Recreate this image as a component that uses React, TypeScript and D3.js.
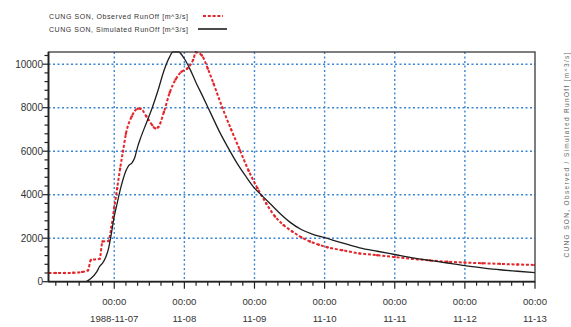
import React, {useRef, useEffect} from 'react';
import * as d3 from 'd3';

// hours relative to 1988-11-07 00:00
const obsHours = [-22.5, -20, -17, -14, -11, -9, -8, -5, -4, -2, -1, 0, 1, 2, 3, 4, 6, 8, 9, 11, 13, 14, 15, 17, 19, 21, 23, 25, 27, 28, 30, 32, 34, 37, 40, 43, 46, 49, 52, 55, 58, 61, 64, 67, 70, 73, 78, 84, 90, 96, 102, 108, 114, 120, 126, 132, 138, 144];
const obsValues = [400, 400, 400, 410, 450, 520, 1000, 1050, 1850, 1870, 2500, 3400, 4300, 5200, 6000, 6800, 7600, 7950, 7950, 7600, 7200, 7050, 7100, 7800, 8700, 9300, 9650, 9800, 10200, 10550, 10400, 9800, 9100, 8000, 7000, 6050, 5100, 4300, 3600, 3000, 2600, 2300, 2050, 1850, 1700, 1580, 1450, 1300, 1220, 1130, 1050, 980, 920, 880, 850, 820, 790, 770];

const simHours = [-22.5, -10, -8, -6, -5, -4, -3, -2, -1, 0, 1, 2, 3, 4, 5, 6, 7, 8, 9, 11, 13, 15, 17, 19, 20, 22, 24, 26, 28, 30, 33, 36, 39, 42, 45, 48, 51, 54, 57, 60, 64, 68, 72, 78, 84, 90, 96, 102, 108, 114, 120, 126, 132, 138, 144];
const simValues = [0, 0, 150, 450, 700, 850, 1100, 1500, 2200, 3000, 3600, 4200, 4700, 5100, 5350, 5450, 5700, 6200, 6600, 7300, 8000, 8800, 9700, 10350, 10560, 10560, 10250, 9750, 9150, 8600, 7750, 6900, 6150, 5450, 4850, 4300, 3900, 3500, 3100, 2750, 2400, 2180, 2030, 1780, 1560, 1400, 1250, 1100, 980, 860, 740, 640, 550, 480, 420];

const dayTicks = [0, 24, 48, 72, 96, 120, 144];
const dayLabels = ['1988-11-07', '11-08', '11-09', '11-10', '11-11', '11-12', '11-13'];
const yTicks = [0, 2000, 4000, 6000, 8000, 10000];
const legendLabels = ['CUNG SON, Observed RunOff [m^3/s]', 'CUNG SON, Simulated RunOff [m^3/s]'];

const W = 571, H = 327;
const left = 48.5, right = 535, top = 52, bottom = 281.7;

const Chart: React.FC = () => {
    const ref = useRef<SVGSVGElement | null>(null);

    useEffect(() => {
        if (!ref.current) return;
        const svg = d3.select(ref.current);
        svg.selectAll('*').remove();

        const x = d3.scaleLinear().domain([-22.5, 144]).range([left, right]);
        const y = d3.scaleLinear().domain([0, 10560]).range([bottom, top]);
        const font = 'Arial, "Liberation Sans", sans-serif';

        // grid
        const grid = svg.append('g').attr('stroke', '#3a86d4').attr('stroke-width', 1.4).attr('stroke-dasharray', '2,2.5');
        grid.selectAll('line.gy').data(yTicks.slice(1)).join('line')
            .attr('x1', left).attr('x2', right).attr('y1', d => y(d)).attr('y2', d => y(d));
        grid.selectAll('line.gx').data(dayTicks.slice(0, -1)).join('line')
            .attr('y1', top).attr('y2', bottom).attr('x1', d => x(d)).attr('x2', d => x(d));

        const clip = svg.append('clipPath').attr('id', 'plotclip');
        clip.append('rect').attr('x', left).attr('y', top - 1).attr('width', right - left).attr('height', bottom - top + 1);

        const lineGen = d3.line<[number, number]>().x(d => x(d[0])).y(d => y(d[1])).curve(d3.curveMonotoneX);
        const obs: [number, number][] = obsHours.map((h, i) => [h, obsValues[i]]);
        const sim: [number, number][] = simHours.map((h, i) => [h, simValues[i]]);

        const plot = svg.append('g').attr('clip-path', 'url(#plotclip)');
        plot.append('path').datum(obs).attr('d', lineGen)
            .attr('fill', 'none').attr('stroke', '#e3262b').attr('stroke-width', 2).attr('stroke-dasharray', '3,1.8');
        plot.selectAll('circle').data(obs).join('circle')
            .attr('cx', d => x(d[0])).attr('cy', d => y(d[1])).attr('r', 1.2).attr('fill', '#e3262b');
        plot.append('path').datum(sim).attr('d', lineGen)
            .attr('fill', 'none').attr('stroke', '#1e1e1e').attr('stroke-width', 1.3);

        // frame
        svg.append('rect').attr('x', left).attr('y', top).attr('width', right - left).attr('height', bottom - top)
            .attr('fill', 'none').attr('stroke', '#3a3a3a').attr('stroke-width', 1.3);
        svg.append('line').attr('x1', left).attr('x2', left).attr('y1', top).attr('y2', bottom).attr('stroke', '#222').attr('stroke-width', 1.8);
        svg.append('line').attr('x1', left).attr('x2', right).attr('y1', bottom).attr('y2', bottom).attr('stroke', '#222').attr('stroke-width', 1.8);

        // ticks
        const ax = svg.append('g').attr('stroke', '#222').attr('stroke-width', 1.2);
        ax.selectAll('line.xt').data(d3.range(-20, 145, 4)).join('line')
            .attr('x1', d => x(d)).attr('x2', d => x(d)).attr('y1', bottom).attr('y2', d => bottom + (d % 24 === 0 ? 7 : 4));
        const ax2 = svg.append('g').attr('stroke', '#222').attr('stroke-width', 1.2);
        ax2.selectAll('line').data(d3.range(0, 10561, 400)).join('line')
            .attr('y1', d => y(d)).attr('y2', d => y(d)).attr('x1', left).attr('x2', d => left - (d % 2000 === 0 ? 6 : 4));

        // labels
        svg.append('g').selectAll('text').data(yTicks).join('text')
            .attr('x', 43).attr('y', d => y(d) + 3.6).attr('text-anchor', 'end')
            .attr('font-family', font).attr('font-size', 10).attr('fill', '#333').text(d => d);
        const xl = svg.append('g').attr('font-family', font).attr('font-size', 9.6).attr('fill', '#333').attr('text-anchor', 'middle');
        xl.selectAll('text.t').data(dayTicks).join('text')
            .attr('x', d => x(d)).attr('y', 305).text('00:00');
        xl.selectAll('text.d').data(dayTicks).join('text').attr('class', 'd')
            .attr('x', d => x(d)).attr('y', 321.5).text((d, i) => dayLabels[i]);

        // legend
        const lg = svg.append('g').attr('font-family', font).attr('font-size', 7).attr('fill', '#333');
        lg.append('text').attr('x', 49).attr('y', 18.5).attr('textLength', 139).text(legendLabels[0]);
        lg.append('text').attr('x', 49).attr('y', 31.5).attr('textLength', 139).text(legendLabels[1]);
        svg.append('line').attr('x1', 203).attr('x2', 223).attr('y1', 16).attr('y2', 16)
            .attr('stroke', '#e3262b').attr('stroke-width', 2).attr('stroke-dasharray', '3,1.8');
        svg.append('line').attr('x1', 198).attr('x2', 227).attr('y1', 29).attr('y2', 29)
            .attr('stroke', '#1e1e1e').attr('stroke-width', 1.6);

        // faint vertical label at right edge
        svg.append('text').attr('transform', `translate(569,155) rotate(-90)`).attr('text-anchor', 'middle')
            .attr('font-family', font).attr('font-size', 6.5).attr('fill', '#666').attr('textLength', 205)
            .text('CUNG SON, Observed / Simulated RunOff [m^3/s]');

        return () => {
            // eslint-disable-next-line react-hooks/exhaustive-deps
            d3.select(ref.current).selectAll('*').remove();
        };
    }, []);

    return <svg ref={ref} width={W} height={H} style={{position: 'absolute', left: 0, top: 0, background: '#fff'}}></svg>;
};

export default function App() {
    return <Chart />;
}
